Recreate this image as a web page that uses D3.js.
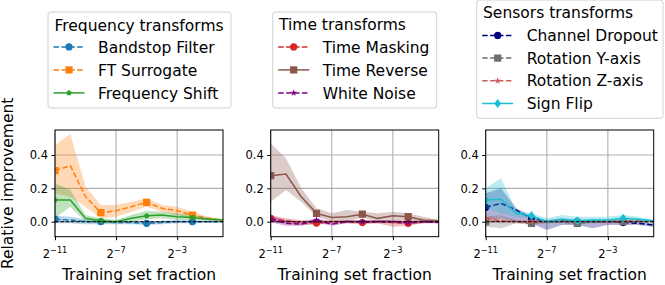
<!DOCTYPE html>
<html>
<head>
<meta charset="utf-8">
<script src="https://cdn.jsdelivr.net/npm/d3@7"></script>
<style>
	body { margin: 0; background: #fff; }
	svg { display: block; font-family: "DejaVu Sans", sans-serif; }
</style>
</head>
<body>
<div id="graphic"></div>
<script>
// training set fraction = 2^exp
const fractionExps = [-11, -10, -9, -8, -7, -6, -5, -4, -3, -2, -1, 0];
const xTickExps = [-11, -7, -3];
const yTicks = [0, 0.2, 0.4];
const yDomain = [-0.09, 0.55];
const markEvery = 3;

// Frequency transforms
const bandstopMean = [0.015, 0.01, 0.0, 0.0, -0.005, -0.005, -0.01, -0.005, 0.0, 0.0, 0.0, 0.0];
const bandstopLo = [-0.01, -0.01, -0.015, -0.015, -0.015, -0.015, -0.02, -0.015, -0.01, -0.01, -0.005, -0.005];
const bandstopHi = [0.035, 0.03, 0.015, 0.01, 0.005, 0.005, 0.0, 0.005, 0.01, 0.01, 0.005, 0.005];
const ftSurrogateMean = [0.306, 0.336, 0.15, 0.054, 0.066, 0.09, 0.116, 0.08, 0.066, 0.04, 0.02, 0.01];
const ftSurrogateLo = [0.17, 0.15, 0.09, 0.02, 0.03, 0.06, 0.09, 0.06, 0.04, 0.02, 0.01, 0.005];
const ftSurrogateHi = [0.46, 0.526, 0.21, 0.10, 0.10, 0.12, 0.14, 0.10, 0.09, 0.06, 0.03, 0.015];
const freqShiftMean = [0.13, 0.13, 0.02, 0.005, 0.0, 0.02, 0.035, 0.04, 0.03, 0.025, 0.015, 0.01];
const freqShiftLo = [0.02, 0.09, 0.0, -0.01, -0.01, 0.0, 0.015, 0.02, 0.01, 0.01, 0.005, 0.005];
const freqShiftHi = [0.23, 0.19, 0.04, 0.02, 0.01, 0.04, 0.065, 0.06, 0.05, 0.04, 0.025, 0.015];

// Time transforms
const timeMaskingMean = [0.02, 0.005, -0.005, -0.008, 0.0, 0.0, -0.005, 0.0, -0.005, -0.01, 0.0, 0.0];
const timeMaskingLo = [0.0, -0.01, -0.02, -0.02, -0.01, -0.01, -0.015, -0.01, -0.03, -0.025, -0.01, -0.005];
const timeMaskingHi = [0.04, 0.02, 0.01, 0.005, 0.01, 0.01, 0.005, 0.01, 0.01, 0.005, 0.01, 0.005];
const timeReverseMean = [0.276, 0.286, 0.15, 0.05, 0.025, 0.03, 0.045, 0.02, 0.035, 0.03, 0.01, 0.005];
const timeReverseLo = [0.12, 0.19, 0.12, 0.03, 0.0, 0.0, 0.025, 0.0, 0.01, 0.01, -0.005, 0.0];
const timeReverseHi = [0.47, 0.38, 0.20, 0.08, 0.05, 0.07, 0.06, 0.05, 0.06, 0.05, 0.03, 0.01];
const whiteNoiseMean = [0.015, -0.01, -0.015, 0.01, -0.015, 0.0, 0.0, 0.0, 0.0, -0.005, 0.0, -0.005];
const whiteNoiseLo = [-0.005, -0.025, -0.025, -0.005, -0.025, -0.01, -0.01, -0.01, -0.01, -0.015, -0.01, -0.01];
const whiteNoiseHi = [0.035, 0.01, 0.0, 0.02, -0.005, 0.01, 0.01, 0.01, 0.01, 0.005, 0.005, 0.0];

// Sensors transforms
const channelDropoutMean = [0.086, 0.11, 0.07, 0.02, 0.0, 0.005, 0.0, 0.0, 0.0, -0.005, -0.01, -0.02];
const channelDropoutLo = [0.01, 0.02, 0.0, -0.01, -0.05, -0.02, -0.02, -0.04, -0.02, -0.02, -0.02, -0.03];
const channelDropoutHi = [0.17, 0.20, 0.08, 0.03, 0.01, 0.02, 0.01, 0.01, 0.01, 0.01, 0.0, -0.01];
const rotationYMean = [0.0, 0.005, 0.0, -0.01, 0.0, 0.0, -0.01, 0.0, 0.0, 0.0, 0.0, 0.0];
const rotationYLo = [-0.03, -0.04, -0.01, -0.02, -0.01, -0.01, -0.02, -0.01, -0.01, -0.01, -0.005, -0.005];
const rotationYHi = [0.03, 0.04, 0.01, 0.0, 0.01, 0.01, 0.0, 0.01, 0.01, 0.01, 0.005, 0.005];
const rotationZMean = [0.02, 0.005, 0.0, 0.0, 0.0, 0.005, 0.0, 0.005, 0.0, 0.005, 0.005, 0.005];
const rotationZLo = [0.0, -0.01, -0.01, -0.01, -0.01, -0.005, -0.01, -0.005, -0.01, -0.005, -0.005, 0.0];
const rotationZHi = [0.04, 0.02, 0.01, 0.01, 0.01, 0.015, 0.01, 0.015, 0.01, 0.015, 0.015, 0.01];
const signFlipMean = [0.13, 0.135, 0.05, 0.036, 0.0, 0.015, 0.005, 0.01, 0.01, 0.02, 0.015, 0.005];
const signFlipLo = [0.08, 0.05, 0.03, 0.02, -0.01, 0.0, -0.005, -0.005, 0.0, 0.01, 0.0, 0.0];
const signFlipHi = [0.20, 0.26, 0.07, 0.05, 0.02, 0.04, 0.03, 0.03, 0.03, 0.04, 0.03, 0.01];

const panels = [
	{
		title: 'Frequency transforms',
		legend: { x: 48, y: 12, w: 183, h: 96, titleY: 30.5, rowY: [52.5, 75.5, 98.5], pad: 6.5 },
		series: [
			{ name: 'Bandstop Filter', color: '#1f77b4', dash: true, marker: 'circle', mean: bandstopMean, lo: bandstopLo, hi: bandstopHi },
			{ name: 'FT Surrogate', color: '#ff7f0e', dash: true, marker: 'square', mean: ftSurrogateMean, lo: ftSurrogateLo, hi: ftSurrogateHi },
			{ name: 'Frequency Shift', color: '#2ca02c', dash: false, marker: 'pentagon', mean: freqShiftMean, lo: freqShiftLo, hi: freqShiftHi }
		]
	},
	{
		title: 'Time transforms',
		legend: { x: 272.7, y: 12, w: 164, h: 96, titleY: 30.3, rowY: [52.5, 75.5, 98.5], pad: 6.3 },
		series: [
			{ name: 'Time Masking', color: '#d62728', dash: true, marker: 'circle', mean: timeMaskingMean, lo: timeMaskingLo, hi: timeMaskingHi },
			{ name: 'Time Reverse', color: '#8c564b', dash: false, marker: 'square', mean: timeReverseMean, lo: timeReverseLo, hi: timeReverseHi },
			{ name: 'White Noise', color: '#800080', dash: true, marker: 'star', mean: whiteNoiseMean, lo: whiteNoiseLo, hi: whiteNoiseHi }
		]
	},
	{
		title: 'Sensors transforms',
		legend: { x: 476.7, y: 0, w: 186.3, h: 118.3, titleY: 18.3, rowY: [41, 63.7, 86.4, 109.1], pad: 6.3 },
		series: [
			{ name: 'Channel Dropout', color: '#000080', dash: true, marker: 'circle', mean: channelDropoutMean, lo: channelDropoutLo, hi: channelDropoutHi },
			{ name: 'Rotation Y-axis', color: '#6e6e6e', dash: true, marker: 'square', mean: rotationYMean, lo: rotationYLo, hi: rotationYHi },
			{ name: 'Rotation Z-axis', color: '#cd5c5c', dash: true, marker: 'star', mean: rotationZMean, lo: rotationZLo, hi: rotationZHi },
			{ name: 'Sign Flip', color: '#17becf', dash: false, marker: 'diamond', mean: signFlipMean, lo: signFlipLo, hi: signFlipHi }
		]
	}
];

const width = 665, height = 285;
const panelLeft = [55, 270.7, 485.7];
const panelWidth = 168;
const plotTop = 130, plotHeight = 106.7;

const svg = d3.select('#graphic').append('svg')
	.attr('width', width)
	.attr('height', height);

const y = d3.scaleLinear()
	.domain(yDomain)
	.range([plotTop + plotHeight, plotTop]);

function starPath(r) {
	let pts = [];
	for (let i = 0; i < 10; i++) {
		let a = -Math.PI / 2 + i * Math.PI / 5;
		let rr = i % 2 ? r * 0.4 : r;
		pts.push([rr * Math.cos(a), rr * Math.sin(a)]);
	}
	return 'M' + pts.join('L') + 'Z';
}
function pentagonPath(r) {
	let pts = [];
	for (let i = 0; i < 5; i++) {
		let a = -Math.PI / 2 + i * 2 * Math.PI / 5;
		pts.push([r * Math.cos(a), r * Math.sin(a)]);
	}
	return 'M' + pts.join('L') + 'Z';
}

// draw one marker of a series at (cx, cy)
function drawMarker(parent, type, color, cx, cy) {
	let d;
	if (type == 'circle') {
		parent.append('circle').attr('cx', cx).attr('cy', cy).attr('r', 3.6).attr('fill', color);
		return;
	} else if (type == 'square') {
		d = 'M-3.6,-3.6H3.6V3.6H-3.6Z';
	} else if (type == 'star') {
		d = starPath(3.6);
	} else if (type == 'pentagon') {
		d = pentagonPath(2.8);
	} else if (type == 'diamond') {
		d = 'M0,-4.6L3.4,0L0,4.6L-3.4,0Z';
	}
	parent.append('path').attr('d', d).attr('transform', `translate(${cx},${cy})`).attr('fill', color);
}

panels.forEach(function (panel, p) {
	const left = panelLeft[p];
	const x = d3.scaleLog()
		.base(2)
		.domain([2 ** fractionExps[0], 2 ** fractionExps[fractionExps.length - 1]])
		.range([left, left + panelWidth]);

	const g = svg.append('g');

	svg.append('clipPath')
		.attr('id', 'clip' + p)
		.append('rect')
		.attr('x', left).attr('y', plotTop)
		.attr('width', panelWidth).attr('height', plotHeight);

	// grid lines
	g.append('g')
		.selectAll('line')
		.data(xTickExps)
		.join('line')
		.attr('x1', (d) => x(2 ** d)).attr('x2', (d) => x(2 ** d))
		.attr('y1', plotTop).attr('y2', plotTop + plotHeight)
		.attr('stroke', '#b0b0b0').attr('stroke-width', 1.1);
	g.append('g')
		.selectAll('line')
		.data(yTicks)
		.join('line')
		.attr('x1', left).attr('x2', left + panelWidth)
		.attr('y1', (d) => y(d)).attr('y2', (d) => y(d))
		.attr('stroke', '#b0b0b0').attr('stroke-width', 1.1);

	const plot = g.append('g').attr('clip-path', `url(#clip${p})`);

	panel.series.forEach(function (s) {
		const rows = fractionExps.map((e, i) => ({ e: e, mean: s.mean[i], lo: s.lo[i], hi: s.hi[i] }));

		const area = d3.area()
			.x((d) => x(2 ** d.e))
			.y0((d) => y(d.lo))
			.y1((d) => y(d.hi));
		plot.append('path')
			.datum(rows)
			.attr('d', area)
			.attr('fill', s.color)
			.attr('fill-opacity', 0.3);

		const line = d3.line()
			.x((d) => x(2 ** d.e))
			.y((d) => y(d.mean));
		plot.append('path')
			.datum(rows)
			.attr('d', line)
			.attr('fill', 'none')
			.attr('stroke', s.color)
			.attr('stroke-width', 1.5)
			.attr('stroke-dasharray', s.dash ? '5.5,2.4' : null);

		rows.filter((d, i) => i % markEvery == 0).forEach(function (d) {
			drawMarker(plot, s.marker, s.color, x(2 ** d.e), y(d.mean));
		});
	});

	// zero reference line
	plot.append('line')
		.attr('x1', left).attr('x2', left + panelWidth)
		.attr('y1', y(0)).attr('y2', y(0))
		.attr('stroke', '#000').attr('stroke-width', 1)
		.attr('stroke-dasharray', '3.7,1.6');

	// y axis
	const yAxis = g.append('g')
		.attr('transform', `translate(${left},0)`)
		.call(d3.axisLeft(y).tickValues(yTicks).tickSize(3.5).tickPadding(3.5).tickFormat(d3.format('.1f')));
	yAxis.select('.domain').remove();
	yAxis.selectAll('text').attr('font-size', 11.5).attr('font-family', '"DejaVu Sans", sans-serif').attr('fill', '#000');
	yAxis.selectAll('line').attr('stroke', '#000');

	// x axis
	const xAxis = g.append('g')
		.attr('transform', `translate(0,${plotTop + plotHeight})`)
		.call(d3.axisBottom(x).tickValues(xTickExps.map((e) => 2 ** e)).tickSize(3.5).tickFormat(''));
	xAxis.select('.domain').remove();
	xAxis.selectAll('line').attr('stroke', '#000');

	xTickExps.forEach(function (e) {
		const t = g.append('text')
			.attr('x', x(2 ** e))
			.attr('y', 258)
			.attr('text-anchor', 'middle')
			.attr('font-size', 11.5);
		t.append('tspan').text('2');
		t.append('tspan').attr('dy', -5.5).attr('font-size', 8.2).text('\u2212' + (-e));
	});

	// axes frame
	g.append('rect')
		.attr('x', left).attr('y', plotTop)
		.attr('width', panelWidth).attr('height', plotHeight)
		.attr('fill', 'none').attr('stroke', '#000').attr('stroke-width', 1);

	g.append('text')
		.attr('x', left + panelWidth / 2)
		.attr('y', 280)
		.attr('text-anchor', 'middle')
		.attr('font-size', 15.5)
		.text('Training set fraction');

	// legend
	const L = panel.legend;
	const lg = svg.append('g');
	lg.append('rect')
		.attr('x', L.x).attr('y', L.y).attr('width', L.w).attr('height', L.h)
		.attr('rx', 3).attr('fill', '#fff').attr('fill-opacity', 0.8)
		.attr('stroke', '#d0d0d0').attr('stroke-width', 1);
	lg.append('text')
		.attr('x', L.x + L.pad).attr('y', L.titleY)
		.attr('font-size', 15.5)
		.text(panel.title);
	panel.series.forEach(function (s, i) {
		const cy = L.rowY[i] - 5.6;
		const hx = L.x + 5.5;
		lg.append('line')
			.attr('x1', hx).attr('x2', hx + 31)
			.attr('y1', cy).attr('y2', cy)
			.attr('stroke', s.color).attr('stroke-width', 1.5)
			.attr('stroke-dasharray', s.dash ? '5.5,2.4' : null);
		drawMarker(lg, s.marker, s.color, hx + 15.5, cy);
		lg.append('text')
			.attr('x', hx + 44.5).attr('y', L.rowY[i])
			.attr('font-size', 15.5)
			.text(s.name);
	});
});

svg.append('text')
	.attr('transform', `translate(13,${plotTop + plotHeight / 2}) rotate(-90)`)
	.attr('text-anchor', 'middle')
	.attr('font-size', 15.5)
	.text('Relative improvement');
</script>
</body>
</html>
